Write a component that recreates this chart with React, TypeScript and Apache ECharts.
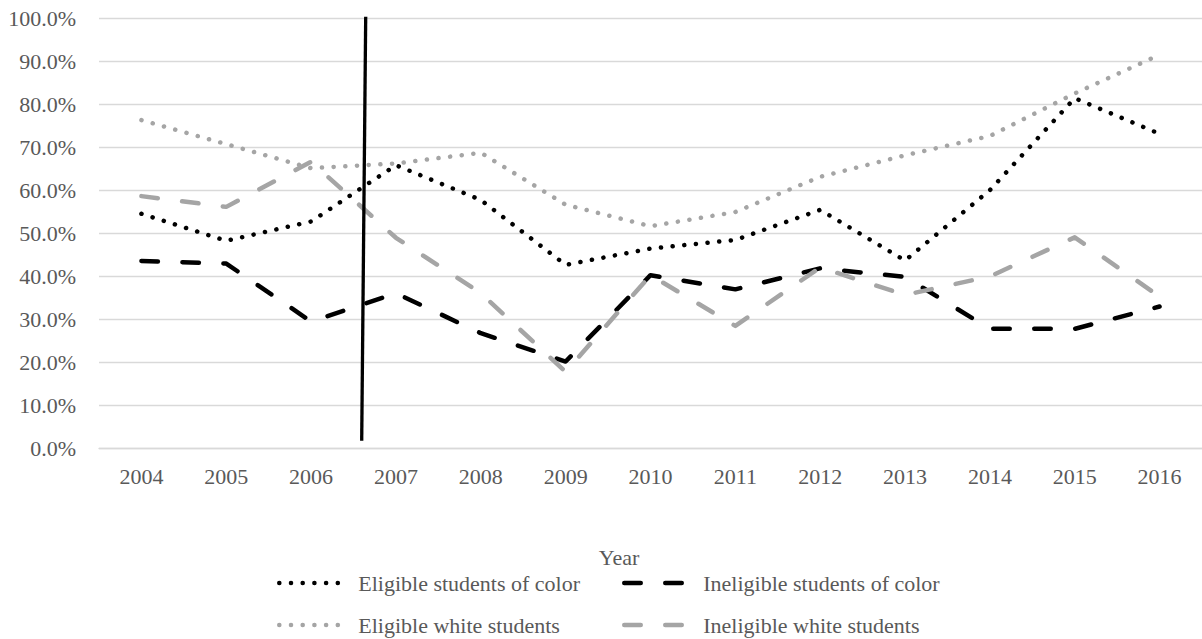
import React, { useEffect, useRef } from "react";
import * as echarts from "echarts";

const years = ["2004", "2005", "2006", "2007", "2008", "2009", "2010", "2011", "2012", "2013", "2014", "2015", "2016"];
const eligibleColor = [54.6, 48.3, 52.8, 65.9, 57.8, 42.7, 46.5, 48.5, 55.5, 43.7, 60.1, 81.5, 73.2];
const ineligibleColor = [43.6, 43.0, 29.5, 36.1, 26.8, 20.2, 40.3, 37.0, 41.9, 39.9, 27.8, 27.8, 33.0];
const eligibleWhite = [76.4, 70.8, 65.2, 66.3, 68.8, 56.7, 51.7, 55.0, 63.2, 68.2, 72.7, 82.6, 91.6];
const ineligibleWhite = [58.7, 56.2, 66.7, 49.0, 36.1, 17.8, 40.3, 28.5, 42.1, 35.7, 40.0, 49.1, 35.3];
const seriesNames = [
  "Eligible students of color",
  "Ineligible students of color",
  "Eligible white students",
  "Ineligible white students",
];

const FONT = "'Liberation Serif', 'Times New Roman', serif";
const TEXT = "#595959";
const BLACK = "#000000";
const GRAY = "#A5A5A5";
const DOT = [0.1, 11.6];
const DASH = [16.5, 24.5];
const LW = 4.5;

export default function App() {
  const ref = useRef<HTMLDivElement>(null);
  useEffect(() => {
    if (!ref.current) return;
    const chart = echarts.init(ref.current, undefined, { renderer: "svg" });
    const styles = [
      { color: BLACK, type: DOT, data: eligibleColor },
      { color: BLACK, type: DASH, data: ineligibleColor },
      { color: GRAY, type: DOT, data: eligibleWhite },
      { color: GRAY, type: DASH, data: ineligibleWhite },
    ];
    const legendPos = [
      { left: 277, top: 572 },
      { left: 622, top: 572 },
      { left: 277, top: 614 },
      { left: 622, top: 614 },
    ];
    const option: any = {
      animation: false,
      backgroundColor: "#ffffff",
      grid: { left: 99, top: 18.7, width: 1106, height: 429.6, containLabel: false },
      xAxis: {
        type: "category",
        data: years,
        boundaryGap: true,
        axisTick: { show: false },
        axisLine: { show: true, lineStyle: { color: "#D9D9D9", width: 1.3 } },
        axisLabel: { color: TEXT, fontFamily: FONT, fontSize: 22, margin: 17 },
        splitLine: { show: false },
      },
      yAxis: {
        type: "value",
        min: 0,
        max: 100,
        interval: 10,
        axisLine: { show: false },
        axisTick: { show: false },
        axisLabel: {
          color: TEXT,
          fontFamily: FONT,
          fontSize: 22,
          margin: 23,
          formatter: (v: number) => v.toFixed(1) + "%",
        },
        splitLine: { show: true, lineStyle: { color: "#D9D9D9", width: 1.3 } },
      },
      legend: seriesNames.map((name, i) => ({
        data: [name],
        left: legendPos[i].left,
        top: legendPos[i].top,
        padding: 0,
        itemGap: 0,
        itemWidth: 66,
        itemHeight: 20,
        selectedMode: false,
        itemStyle: { color: "transparent", borderColor: "transparent", borderWidth: 0, opacity: 0 },
        lineStyle: { width: LW, type: styles[i].type, cap: "round", color: styles[i].color, opacity: 1 },
        textStyle: { color: TEXT, fontFamily: FONT, fontSize: 22, padding: [0, 0, 0, 8] },
      })),
      series: seriesNames.map((name, i) => ({
        name,
        type: "line",
        data: styles[i].data,
        symbol: "none",
        showSymbol: false,
        smooth: false,
        z: i === 0 || i === 2 ? 3 : 2,
        itemStyle: { color: styles[i].color },
        lineStyle: {
          color: styles[i].color,
          width: LW,
          type: styles[i].type,
          cap: "round",
          join: "round",
        },
      })),
      graphic: [
        {
          type: "line",
          shape: { x1: 365.7, y1: 16.7, x2: 361.7, y2: 440.7 },
          style: { stroke: BLACK, lineWidth: 3.3 },
          z: 100,
        },
        {
          type: "text",
          x: 619,
          y: 557,
          style: {
            text: "Year",
            fill: TEXT,
            font: `22px ${FONT}`,
            textAlign: "center",
            textVerticalAlign: "middle",
          },
        },
      ],
    };
    chart.setOption(option);
    return () => chart.dispose();
  }, []);
  return (
    <div
      ref={ref}
      style={{ position: "fixed", left: 0, top: 0, width: 1202, height: 639, background: "#fff" }}
    />
  );
}
